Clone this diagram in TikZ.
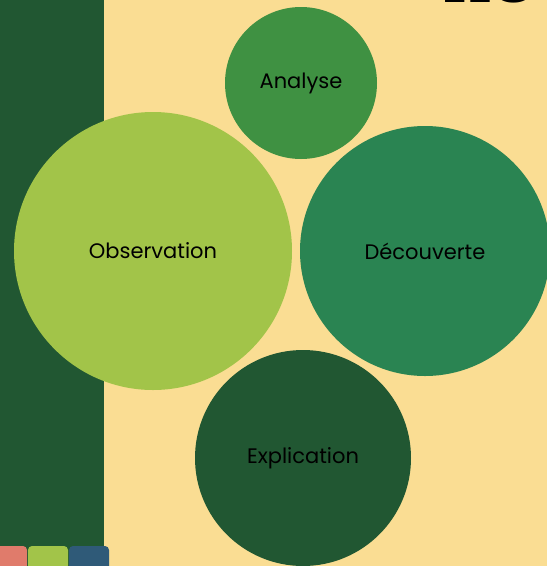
\documentclass[tikz,border=0pt]{standalone}
\usepackage{fontspec}
\setmainfont{Poppins}
\newfontfamily\titlefont{Liberation Serif}
\definecolor{bgyellow}{HTML}{FADD93}
\definecolor{darkgreen}{HTML}{215732}
\definecolor{midgreen}{HTML}{3F9142}
\definecolor{limegreen}{HTML}{A2C449}
\definecolor{teal}{HTML}{2A8452}
\definecolor{salmon}{HTML}{E07B6B}
\definecolor{steelblue}{HTML}{2F5A78}
\tikzset{
  bubble/.style={circle, inner sep=0pt, font=\fontsize{21}{24}\selectfont, text=black},
  tab/.style={rounded corners=4pt}
}
\begin{document}
\begin{tikzpicture}[x=1pt,y=1pt]
\useasboundingbox (0,0) rectangle (547,-566);
\begin{scope}
\clip (0,0) rectangle (547,-566);
\fill[bgyellow] (0,0) rectangle (547,-566);
\fill[darkgreen] (0,0) rectangle (104,-566);
\node[anchor=base west, inner sep=0pt, font=\titlefont\bfseries\fontsize{60}{60}\selectfont] (title) at (444,-2) {HOW};
\fill[salmon, tab] (-5,-546) rectangle (27,-575);
\fill[limegreen, tab] (28,-546) rectangle (68,-575);
\fill[steelblue, tab] (69,-546) rectangle (109,-575);
\node[bubble, fill=midgreen, minimum size=152pt] (analyse) at (301,-83) {Analyse};
\node[bubble, fill=limegreen, minimum size=278pt] (observation) at (153,-251) {Observation};
\node[bubble, fill=teal, minimum size=250pt] (decouverte) at (425,-251) {Découverte};
\node[bubble, fill=darkgreen, minimum size=216pt] (explication) at (303,-458) {Explication};
\end{scope}
\end{tikzpicture}
\end{document}
